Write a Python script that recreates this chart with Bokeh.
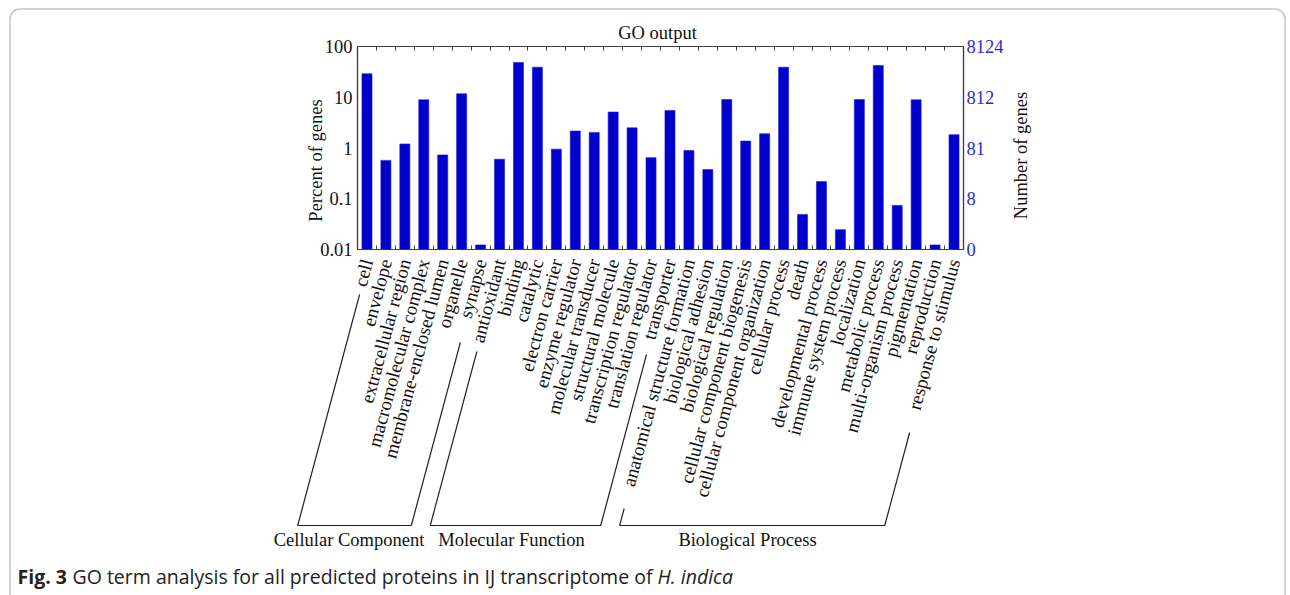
import math
from bokeh.plotting import figure
from bokeh.layouts import column
from bokeh.models import (Range1d, LogScale, LinearAxis, LogAxis, FixedTicker,
                          NumeralTickFormatter, BoxAnnotation, ColumnDataSource)
from bokeh.core.properties import value
from bokeh.embed import file_html
from bokeh.resources import INLINE

# ---------------- data ----------------
categories = [
    "cell", "envelope", "extracellular region", "macromolecular complex",
    "membrane-enclosed lumen", "organelle", "synapse",
    "antioxidant", "binding", "catalytic", "electron carrier", "enzyme regulator",
    "molecular transducer", "structural molecule", "transcription regulator",
    "translation regulator", "transporter",
    "anatomical structure formation", "biological adhesion", "biological regulation",
    "cellular component biogenesis", "cellular component organization", "cellular process",
    "death", "developmental process", "immune system process", "localization",
    "metabolic process", "multi-organism process", "pigmentation", "reproduction",
    "response to stimulus",
]
percent = [
    29.0, 0.57, 1.2, 8.9, 0.73, 11.7, 0.0123,
    0.6, 48.4, 39.2, 0.95, 2.16, 2.03, 5.1, 2.5, 0.645, 5.5,
    0.89, 0.375, 9.0, 1.37, 1.91, 39.2, 0.0492, 0.218, 0.0246, 9.0, 42.3, 0.0739,
    8.9, 0.0123, 1.83,
]
groups = ["Cellular Component", "Molecular Function", "Biological Process"]
group_first = [0, 7, 17]
group_last = [6, 16, 31]
total_genes = 8124
pct_ticks = [0.01, 0.1, 1, 10, 100]
gene_ticks = [total_genes * t / 100 for t in pct_ticks]
gene_tick_labels = [str(int(math.floor(g))) for g in gene_ticks]

title_text = "GO output"
left_title = "Percent of genes"
right_title = "Number of genes"
caption_parts = ["Fig. 3", "GO term analysis for all predicted proteins in IJ transcriptome of",
                 "H. indica"]

n = len(categories)

# ---------------- layout constants (page pixels) ----------------
W, H = 1290, 595
FL, FR, FT, FB = 357, 963, 46, 249          # frame edges on the page
SERIF = "Liberation Serif"
FS = "18.5px"
FS_CAT = "19px"
AX = "#404040"
BLUE_TXT = "#2a2ae0"


def Y(page_y):
    return H - page_y


# ================= main chart =================
p = figure(width=W, height=H, x_range=Range1d(-0.5, n - 0.5), y_range=Range1d(0.01, 100),
           x_axis_type=None, y_axis_type="log", output_backend="svg", toolbar_location=None,
           min_border_left=FL, min_border_right=W - FR, min_border_top=FT,
           min_border_bottom=H - FB)
p.title.visible = False
p.grid.visible = False
p.background_fill_color = "white"
p.border_fill_color = "white"
p.outline_line_color = AX
p.outline_line_width = 1.2
p.margin = (0, 0, 0, 0)
p.frame_align = False

p.extra_y_ranges = {"genes": Range1d(gene_ticks[0], gene_ticks[-1])}
p.extra_y_scales = {"genes": LogScale()}

src = ColumnDataSource(dict(x=list(range(n)), top=percent))
p.vbar(x="x", top="top", bottom=pct_ticks[0], width=0.53, source=src,
       fill_color="#0000cc", line_color="#1a1ad8", line_width=0.6)

boundaries = [i + 0.5 for i in range(n - 1)]

# bottom axis with category labels
xb = LinearAxis(ticker=FixedTicker(ticks=list(range(n)), minor_ticks=boundaries),
                major_label_overrides={i: c for i, c in enumerate(categories)},
                major_label_orientation=math.radians(75),
                major_tick_in=0, major_tick_out=0, minor_tick_in=4, minor_tick_out=0,
                major_label_standoff=10, axis_line_color=AX, axis_line_width=1.2,
                minor_tick_line_color=AX, major_label_text_font=SERIF,
                major_label_text_font_size=FS_CAT, major_label_text_color="#111111")
p.add_layout(xb, "below")

# top axis (inward ticks only)
xt = LinearAxis(ticker=FixedTicker(ticks=[], minor_ticks=boundaries),
                major_tick_in=0, major_tick_out=0, minor_tick_in=4, minor_tick_out=0,
                axis_line_color=AX, axis_line_width=1.2, minor_tick_line_color=AX)
p.add_layout(xt, "above")

# left axis
ya = p.yaxis[0]
ya.ticker = FixedTicker(ticks=pct_ticks)
ya.formatter = NumeralTickFormatter(format="0.[00]")
ya.major_tick_in = 0
ya.major_tick_out = 0
ya.minor_tick_in = 0
ya.minor_tick_out = 0
ya.major_label_standoff = 5
ya.axis_line_color = AX
ya.axis_line_width = 1.2
ya.major_label_text_font = SERIF
ya.major_label_text_font_size = FS
ya.major_label_text_color = "#111111"

# right axis
yr = LogAxis(y_range_name="genes", ticker=FixedTicker(ticks=gene_ticks),
             major_label_overrides={g: l for g, l in zip(gene_ticks, gene_tick_labels)},
             major_tick_in=0, major_tick_out=0, minor_tick_in=0, minor_tick_out=0,
             major_label_standoff=3, axis_line_color=AX, axis_line_width=1.2,
             major_label_text_font=SERIF, major_label_text_font_size=FS,
             major_label_text_color=BLUE_TXT)
p.add_layout(yr, "right")

# ================= overlay (titles, brackets, caption) =================
q = figure(width=W, height=H, x_range=Range1d(0, W), y_range=Range1d(0, H),
           x_axis_type=None, y_axis_type=None, output_backend="svg", toolbar_location=None,
           min_border=0, min_border_left=0, min_border_right=0, min_border_top=0,
           min_border_bottom=0)
q.title.visible = False
q.grid.visible = False
q.background_fill_color = None
q.border_fill_color = None
q.outline_line_color = None
q.margin = (-H, 0, 0, 0)
q.frame_align = False


def txt(xs, ys, texts, angle=0.0, align="center", font=SERIF, size=FS, style="normal",
        color="#111111"):
    q.text(x=xs, y=[Y(v) for v in ys], text=texts, angle=angle,
           text_align=align, text_baseline="middle", text_font=value(font),
           text_font_size=value(size), text_font_style=style, text_color=color)


txt([657], [32], [title_text])
txt([315], [160], [left_title], angle=math.pi / 2)
txt([1020], [155], [right_title], angle=math.pi / 2)

# group brackets
slot = (FR - FL) / n
TAN = math.tan(math.radians(75))
ANCHOR_Y = 259
BR_Y = 525
top_y = {0: 294, 6: 342, 7: 351, 16: 354, 17: 508, 31: 432}


def lx(i, y):
    xc = FL + (i + 0.5) * slot
    return xc + 2 - (y - ANCHOR_Y) / TAN


bx, by = [], []
for g in range(len(groups)):
    a, b = group_first[g], group_last[g]
    pts = [(lx(a, top_y[a]), top_y[a]), (lx(a, BR_Y), BR_Y),
           (lx(b, BR_Y), BR_Y), (lx(b, top_y[b]), top_y[b])]
    bx.append([pt[0] for pt in pts])
    by.append([Y(pt[1]) for pt in pts])
q.multi_line(xs=bx, ys=by, line_color="#222222", line_width=1.2)

group_text_x = [348.5, 511, 747]
txt(group_text_x, [539] * 3, groups)

# caption
CAP = "Open Sans"
CAP_FS = "19.5px"
txt([17], [576], [caption_parts[0]], align="left", font=CAP, size=CAP_FS, style="bold",
    color="#222222")
txt([72], [576], [caption_parts[1]], align="left", font=CAP, size=CAP_FS, color="#222222")
txt([657], [576], [caption_parts[2]], align="left", font=CAP, size=CAP_FS, style="italic",
    color="#222222")

# rounded frame around the figure panel
q.add_layout(BoxAnnotation(left=9.5, right=1284.5, top=Y(8.5), bottom=Y(604),
                           fill_color=None, fill_alpha=0, line_color="#3a3a3a",
                           line_width=1.5, border_radius=10))

layout = column(p, q, spacing=0)
open("out.html", "w").write(file_html(layout, INLINE))
